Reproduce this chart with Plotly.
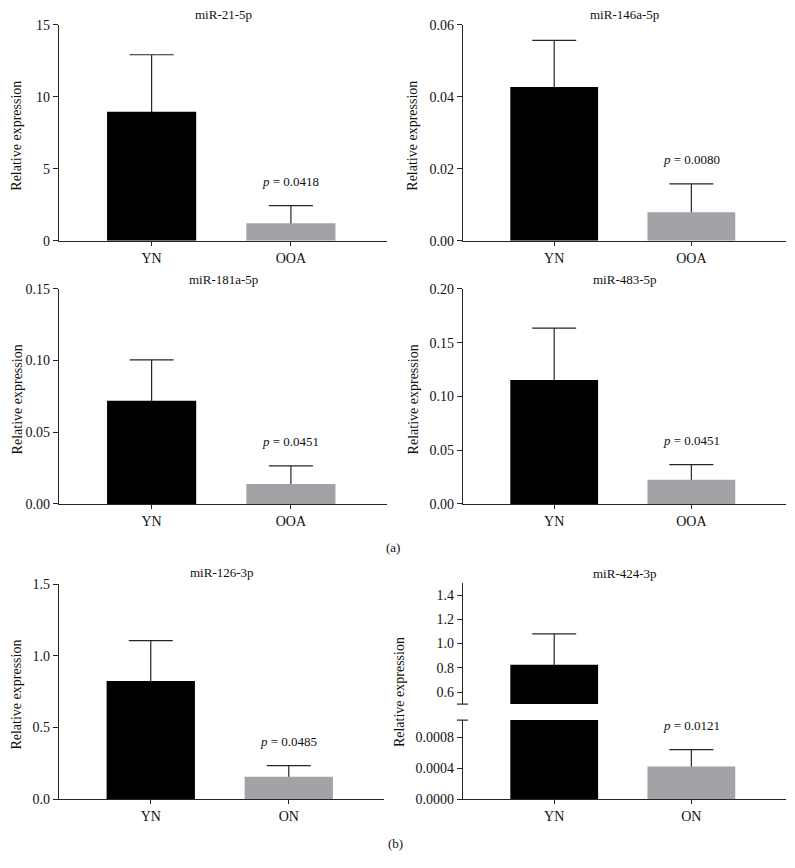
import plotly.graph_objects as go

W, H = 795, 868
# empirical vertical calibration of the capture (observed = CAL_A * layout_px + CAL_B)
CAL_A, CAL_B = 0.982, 7.4

titles = ["miR-21-5p", "miR-146a-5p", "miR-181a-5p", "miR-483-5p", "miR-126-3p", "miR-424-3p"]
groups_a = ["YN", "OOA"]
groups_b = ["YN", "ON"]

mir21_mean = [8.95, 1.22]
mir21_err = [3.96, 1.22]
mir146a_mean = [0.0427, 0.0079]
mir146a_err = [0.0129, 0.0079]
mir181a_mean = [0.072, 0.0139]
mir181a_err = [0.0285, 0.0126]
mir483_mean = [0.1152, 0.0226]
mir483_err = [0.0483, 0.0139]
mir126_mean = [0.824, 0.156]
mir126_err = [0.281, 0.0785]
mir424_mean = [0.825, 0.00042]
mir424_err = [0.255, 0.00022]

p_values = ["0.0418", "0.0080", "0.0451", "0.0451", "0.0485", "0.0121"]

ytick_sets = [
    [0, 5, 10, 15],
    [0.00, 0.02, 0.04, 0.06],
    [0.00, 0.05, 0.10, 0.15],
    [0.00, 0.05, 0.10, 0.15, 0.20],
    [0.0, 0.5, 1.0, 1.5],
]
ytick_fmt = ["d", ".2f", ".2f", ".2f", ".1f"]
mir424_upper_ticks = [0.6, 0.8, 1.0, 1.2, 1.4]
mir424_lower_ticks = [0.0, 0.0004, 0.0008]

FONT = "Liberation Serif"
AX = "#262626"
BAR_COLORS = ["#000000", "#a3a3a7"]


def px_x(p):
    return p / W


def px_y(p):
    return 1 - ((p - CAL_B) / CAL_A) / H


# panel pixel boxes: (x0, x1, ytop, ybottom)
boxes = [
    (59, 387, 25, 241),
    (463, 786, 25, 241),
    (59, 387, 289, 504),
    (463, 786, 289, 504),
    (59, 384, 584, 799),
]
box6_lower = (463, 786, 720, 799)
box6_upper = (463, 786, 583, 704)

panels = [
    (groups_a, mir21_mean, mir21_err),
    (groups_a, mir146a_mean, mir146a_err),
    (groups_a, mir181a_mean, mir181a_err),
    (groups_a, mir483_mean, mir483_err),
    (groups_b, mir126_mean, mir126_err),
]

fig = go.Figure()
layout = dict(
    width=W, height=H, margin=dict(l=0, r=0, t=0, b=0),
    paper_bgcolor="white", plot_bgcolor="white",
    showlegend=False, barmode="overlay",
    font=dict(family=FONT, color="#111"),
)
annotations = []
shapes = []
XRANGE = [-0.665, 1.69]


def add_bars(axn, cats, means, errs, show_err):
    xa = "x" + ("" if axn == 1 else str(axn))
    ya = "y" + ("" if axn == 1 else str(axn))
    # transparent bars carrying the upper error bars; the lower end stays hidden inside the visible bar drawn on top
    for i in range(2):
        if show_err[i]:
            fig.add_trace(go.Bar(
                x=[cats[i]], y=[means[i]], width=0.64,
                marker=dict(color="rgba(0,0,0,0)", line=dict(width=0)),
                error_y=dict(type="data", array=[errs[i]],
                             arrayminus=[min(errs[i], means[i]) / 2], symmetric=False,
                             color=AX, thickness=1.2, width=22),
                xaxis=xa, yaxis=ya, hoverinfo="skip",
            ))
    for i in range(2):
        fig.add_trace(go.Bar(
            x=[cats[i]], y=[means[i]], width=0.64,
            marker=dict(color=BAR_COLORS[i], line=dict(width=0)),
            xaxis=xa, yaxis=ya,
        ))


def xaxis_def(box, axn, show, cats):
    return dict(
        domain=[px_x(box[0]), px_x(box[1])], anchor="y" + ("" if axn == 1 else str(axn)),
        type="category", categoryorder="array", categoryarray=cats,
        range=XRANGE, showline=show, linecolor=AX, linewidth=1.2,
        ticks="outside" if show else "", ticklen=4, tickcolor=AX, tickwidth=1.2,
        showticklabels=show, tickfont=dict(size=14, family=FONT, color="#111"),
        showgrid=False, zeroline=False, fixedrange=True,
    )


def yaxis_def(box, axn, rng, tickvals, fmt):
    return dict(
        domain=[px_y(box[3]), px_y(box[2])], anchor="x" + ("" if axn == 1 else str(axn)),
        range=rng, showline=True, linecolor=AX, linewidth=1.2,
        ticks="outside", ticklen=5, tickcolor=AX, tickwidth=1.2,
        tickvals=tickvals, tickformat=fmt,
        tickfont=dict(size=14, family=FONT, color="#111"),
        showgrid=False, zeroline=False, fixedrange=True,
    )


def add_title(box, text, ypx):
    annotations.append(dict(
        x=px_x((box[0] + box[1]) / 2), y=px_y(ypx), xref="paper", yref="paper",
        text=text, showarrow=False, font=dict(size=13, family=FONT, color="#111"),
        xanchor="center", yanchor="middle",
    ))


def add_ytitle(xpx, ypx):
    annotations.append(dict(
        x=px_x(xpx), y=px_y(ypx), xref="paper", yref="paper",
        text="Relative expression", textangle=-90, showarrow=False,
        font=dict(size=14, family=FONT, color="#111"), xanchor="center", yanchor="middle",
    ))


def add_p(axn, cat, top, pv):
    s = "" if axn == 1 else str(axn)
    annotations.append(dict(
        x=cat, y=top, xref="x" + s, yref="y" + s, yshift=24,
        text="<i>p</i> = " + pv, showarrow=False,
        font=dict(size=13, family=FONT, color="#111"), xanchor="center", yanchor="middle",
    ))


title_y = [15, 15, 280, 280, 572]
ytitle_x = [17, 413, 17, 413, 17]

for k, (cats, means, errs) in enumerate(panels):
    axn = k + 1
    box = boxes[k]
    add_bars(axn, cats, means, errs, [True, True])
    ticks = ytick_sets[k]
    layout["xaxis" + ("" if axn == 1 else str(axn))] = xaxis_def(box, axn, True, cats)
    layout["yaxis" + ("" if axn == 1 else str(axn))] = yaxis_def(box, axn, [0, ticks[-1]], ticks, ytick_fmt[k])
    add_title(box, titles[k], title_y[k])
    add_ytitle(ytitle_x[k], (box[2] + box[3]) / 2 + 3)
    add_p(axn, cats[1], means[1] + errs[1], p_values[k])

# panel 6: broken axis
add_bars(6, groups_b, mir424_mean, mir424_err, [False, True])
layout["xaxis6"] = xaxis_def(box6_lower, 6, True, groups_b)
layout["yaxis6"] = yaxis_def(box6_lower, 6, [0, 0.00102], mir424_lower_ticks, ".4f")
add_bars(7, groups_b, mir424_mean, mir424_err, [True, False])
layout["xaxis7"] = xaxis_def(box6_upper, 7, False, groups_b)
layout["yaxis7"] = yaxis_def(box6_upper, 7, [0.5, 1.5], mir424_upper_ticks, ".1f")
add_title(box6_upper, titles[5], 573)
add_ytitle(399, 692)
add_p(6, groups_b[1], mir424_mean[1] + mir424_err[1], p_values[5])

# break marks on the panel 6 y axis
for yb in (704, 720):
    shapes.append(dict(type="line", xref="paper", yref="paper",
                       x0=px_x(457), x1=px_x(468), y0=px_y(yb), y1=px_y(yb),
                       line=dict(color=AX, width=1.2)))

# panel labels
for txt, xp, yp in (("(a)", 393, 548), ("(b)", 395, 843)):
    annotations.append(dict(x=px_x(xp), y=px_y(yp), xref="paper", yref="paper",
                            text=txt, showarrow=False,
                            font=dict(size=13, family=FONT, color="#111"),
                            xanchor="center", yanchor="middle"))

layout["annotations"] = annotations
layout["shapes"] = shapes
fig.update_layout(**layout)
fig.write_html(
    "out.html",
    config={"displayModeBar": False},
    post_script="document.body.style.margin='0';document.body.style.overflow='hidden';",
)
